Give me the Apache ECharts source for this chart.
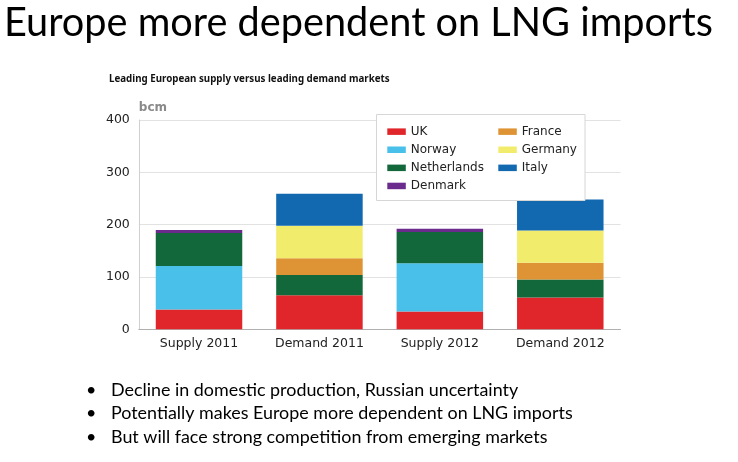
<!DOCTYPE html>
<html><head><meta charset="utf-8">
<script src="https://cdn.jsdelivr.net/npm/echarts@6/dist/echarts.min.js"></script>
<style>html,body{margin:0;padding:0;background:#fff}#c{width:738px;height:462px}</style>
</head><body><div id="c"></div>
<script>
// ---- data ----
const categories = ['Supply 2011', 'Demand 2011', 'Supply 2012', 'Demand 2012'];
const ukValues = [38, 65, 34, 61];
const norwayValues = [83, null, 92, null];
const netherlandsValues = [63, 39, 60, 34];
const denmarkValues = [6, null, 6, null];
const franceValues = [null, 32, null, 32];
const germanyValues = [null, 62, null, 62];
const italyValues = [null, 61, null, 59];
const yTicks = [0, 100, 200, 300, 400];
const titleText = 'Europe more dependent on LNG imports';
const subtitleText = 'Leading European supply versus leading demand markets';
const unitText = 'bcm';
const bullets = [
  'Decline in domestic production, Russian uncertainty',
  'Potentially makes Europe more dependent on LNG imports',
  'But will face strong competition from emerging markets'
];
const legendCol1 = ['UK', 'Norway', 'Netherlands', 'Denmark'];
const legendCol2 = ['France', 'Germany', 'Italy'];

// ---- styles ----
const colors = {
  UK: '#e0262b', Norway: '#48c0ea', Netherlands: '#12683a', Denmark: '#6a2b8c',
  France: '#de9434', Germany: '#f2ec6c', Italy: '#1269b0'
};
const seriesDefs = [
  ['UK', ukValues], ['Norway', norwayValues], ['Netherlands', netherlandsValues],
  ['Denmark', denmarkValues], ['France', franceValues], ['Germany', germanyValues],
  ['Italy', italyValues]
];

const chart = echarts.init(document.getElementById('c'), null, {renderer: 'canvas'});
const legendText = {fontFamily: 'DejaVu Sans', fontSize: 12, color: '#222', lineHeight: 18.1};
const bulletFont = 'Lato';

const graphics = [
  {type: 'text', left: 4, top: 3, z: 20,
   style: {text: titleText, fontFamily: bulletFont, fontSize: 39.7, fill: '#000'}},
  {type: 'text', left: 109, top: 74.5, z: 20,
   style: {text: subtitleText, fontFamily: 'Noto Sans', fontWeight: 'bold', fontSize: 9.75, fill: '#111'}},
  {type: 'rect', shape: {x: 376.5, y: 114.5, width: 208.5, height: 86}, z: 50,
   style: {fill: '#fff', stroke: '#d6d6d6', lineWidth: 1}}
];
const bulletY = [390, 413.5, 437];
bullets.forEach((b, i) => {
  graphics.push({type: 'text', x: 86, y: bulletY[i], z: 20,
    style: {text: '•', fontFamily: bulletFont, fontSize: 17.9, fill: '#000', verticalAlign: 'middle'}});
  graphics.push({type: 'text', x: 111, y: bulletY[i], z: 20,
    style: {text: b, fontFamily: bulletFont, fontSize: 17.9, fill: '#000', verticalAlign: 'middle'}});
});

chart.setOption({
  animation: false,
  backgroundColor: '#fff',
  grid: {left: 138.8, right: 117.5, top: 120, bottom: 132.7, containLabel: false},
  legend: [
    {data: legendCol1, orient: 'vertical', left: 387.3, top: 122.6, padding: 0, itemGap: 0,
     itemWidth: 18.5, itemHeight: 6.5, icon: 'rect', textStyle: legendText, z: 60, selectedMode: false},
    {data: legendCol2, orient: 'vertical', left: 498.3, top: 122.6, padding: 0, itemGap: 0,
     itemWidth: 18.5, itemHeight: 6.5, icon: 'rect', textStyle: legendText, z: 60, selectedMode: false}
  ],
  xAxis: {
    type: 'category', data: categories,
    axisLine: {lineStyle: {color: '#b0b0b0', width: 1}},
    axisTick: {show: false},
    axisLabel: {fontFamily: 'DejaVu Sans', fontSize: 12.5, color: '#222', margin: 8}
  },
  yAxis: {
    type: 'value', min: yTicks[0], max: yTicks[yTicks.length - 1], interval: yTicks[1] - yTicks[0],
    name: unitText, nameLocation: 'end', nameGap: 12,
    nameTextStyle: {fontFamily: 'DejaVu Sans', fontWeight: 'bold', fontSize: 12, color: '#8a8a8a', align: 'left', verticalAlign: 'middle'},
    axisLine: {show: true, lineStyle: {color: '#d0d0d0'}},
    axisTick: {show: false},
    splitLine: {lineStyle: {color: '#e2e2e2'}},
    axisLabel: {fontFamily: 'DejaVu Sans', fontSize: 12.5, color: '#222', margin: 9}
  },
  graphic: graphics,
  series: seriesDefs.map(([name, vals]) => ({
    name, type: 'bar', stack: 'total', data: vals, barWidth: 86.5,
    itemStyle: {color: colors[name]}, emphasis: {disabled: true}
  }))
});
</script></body></html>
